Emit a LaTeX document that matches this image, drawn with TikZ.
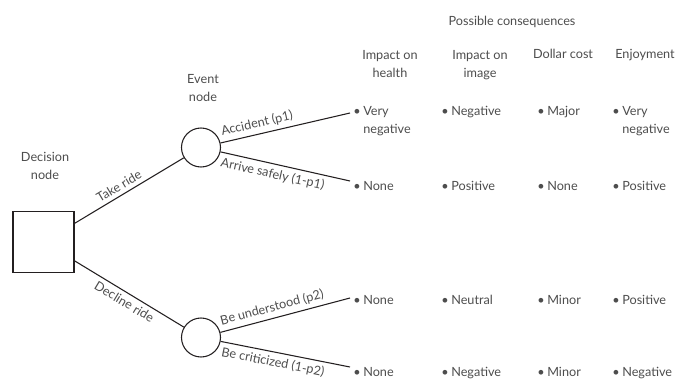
\documentclass[tikz,border=0pt]{standalone}
\usepackage{fontspec}
\setmainfont{Lato}
\usetikzlibrary{positioning}
\definecolor{txtgray}{HTML}{4D4D4D}
\definecolor{linegray}{HTML}{231F20}
\tikzset{
%Define style for the decision box
decbox/.style={
	rectangle,
	draw=linegray, line width=0.8pt,
	minimum size=45.75pt},
%Define style for the event circles
evcirc/.style={
	circle,
	draw=linegray, line width=0.8pt,
	minimum size=29.25pt},
% Define line style
branch/.style={
	draw=linegray,
	line width=0.8pt},
% Define label styles
brlbl/.style={
	sloped,
	inner sep=3pt},
hdr/.style={
	align=center,
	anchor=base},
outc/.style={
	align=left,
	anchor=base west,
	inner sep=0pt}
}
\newcommand{\bul}{\textbullet\hspace{2pt}}
\begin{document}
\begin{tikzpicture}[x=0.75pt,y=-0.75pt]
	\tikzstyle{every node}=[font=\fontsize{9.5}{13.5}\selectfont, text=txtgray]
	\useasboundingbox (0,0) rectangle (682,389);
	% tree nodes
	\node[decbox] (dec) at (43.5,242) {};
	\node[evcirc] (ev1) at (201,147.5) {};
	\node[evcirc] (ev2) at (201,337.5) {};
	\node[hdr] (dectxt) at (45,179) {Decision\\node};
	\node[hdr] (evtxt) at (203,101) {Event\\node};
	% ends of the branches
	\coordinate (acc) at (350,113);
	\coordinate (safe) at (350,181);
	\coordinate (und) at (350,298);
	\coordinate (crit) at (350,367);
	% branches
	\draw[branch] (dec) -- node[brlbl, above, pos=0.45] {Take ride} (ev1);
	\draw[branch] (dec) -- node[brlbl, below, pos=0.5] {Decline ride} (ev2);
	\draw[branch] (ev1) -- node[brlbl, above, pos=0.3] {Accident (p1)} (acc);
	\draw[branch] (ev1) -- node[brlbl, below, pos=0.42] {Arrive safely (1-p1)} (safe);
	\draw[branch] (ev2) -- node[brlbl, above, pos=0.42] {Be understood (p2)} (und);
	\draw[branch] (ev2) -- node[brlbl, below, pos=0.42] {Be criticized (1-p2)} (crit);
	% headers
	\node[hdr] (poss) at (512,26) {Possible consequences};
	\node[hdr] (health) at (390,77) {Impact on\\health};
	\node[hdr] (image) at (480,77) {Impact on\\image};
	\node[hdr] (cost) at (563,58) {Dollar cost};
	\node[hdr] (enjoy) at (645,58) {Enjoyment};
	% consequences of accident
	\node[outc] (a1) at (353,133) {\bul Very\\\hphantom{\bul}negative};
	\node[outc] (a2) at (441,115) {\bul Negative};
	\node[outc] (a3) at (537,115) {\bul Major};
	\node[outc] (a4) at (612,133) {\bul Very\\\hphantom{\bul}negative};
	% consequences of safe arrival
	\node[outc] (s1) at (353,190) {\bul None};
	\node[outc] (s2) at (441,190) {\bul Positive};
	\node[outc] (s3) at (537,190) {\bul None};
	\node[outc] (s4) at (612,190) {\bul Positive};
	% consequences of being understood
	\node[outc] (u1) at (353,304) {\bul None};
	\node[outc] (u2) at (441,304) {\bul Neutral};
	\node[outc] (u3) at (537,304) {\bul Minor};
	\node[outc] (u4) at (612,304) {\bul Positive};
	% consequences of being criticized
	\node[outc] (c1) at (353,376) {\bul None};
	\node[outc] (c2) at (441,376) {\bul Negative};
	\node[outc] (c3) at (537,376) {\bul Minor};
	\node[outc] (c4) at (612,376) {\bul Negative};
\end{tikzpicture}
\end{document}
